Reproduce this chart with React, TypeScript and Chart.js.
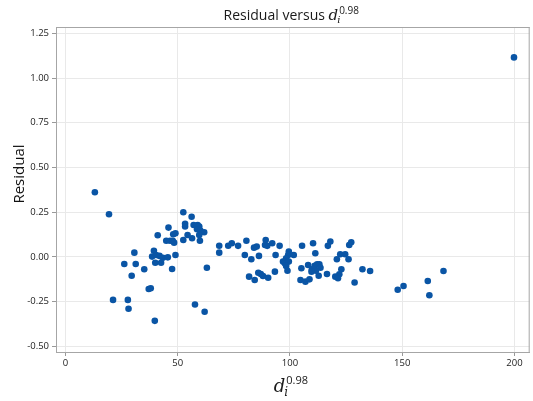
import React, { useEffect, useRef } from "react";
import { Chart, registerables } from "chart.js";

Chart.register(...registerables);

const xValues: number[] = [
  13.1, 19.4, 21.2, 27.8, 28.1, 26.2, 30.7, 31.3, 29.5, 35.1, 37.1, 38.0, 39.8,
  38.6, 39.4, 40.4, 41.9, 43.4, 45.6, 40.0, 42.6, 41.1, 45.9, 44.9, 46.6, 47.8, 48.4, 48.0, 49.0, 49.0, 47.5,
  52.5, 53.3, 53.3, 52.5, 54.4, 56.2, 56.4, 57.1, 58.9, 59.6, 58.6, 60.1, 61.8, 59.6, 59.9, 63.0, 57.7, 62.0,
  68.5, 68.5, 72.5, 74.1, 76.9, 80.6, 79.9, 82.8, 84.0, 85.2, 86.2, 89.2, 88.9, 89.9, 92.1, 95.4, 93.6,
  99.5, 99.2, 101.7, 98.3, 96.9, 97.7, 99.5, 98.3, 98.9, 93.3, 81.8, 84.3, 85.9, 87.0, 88.0, 90.3,
  105.4, 110.3, 111.3, 116.9, 118.0, 126.4, 127.3, 120.9, 122.4, 124.6, 126.1, 105.1, 108.1, 109.8, 111.0,
  112.1, 113.1, 113.6, 111.6, 109.6, 116.5, 112.8, 104.7, 106.9, 108.7, 122.9, 122.0, 120.2, 121.4, 128.8,
  132.3, 135.7, 148.0, 150.6, 161.4, 162.1, 168.4, 199.8,
];

const residuals: number[] = [
  0.362, 0.239, -0.24, -0.24, -0.289, -0.039, 0.024, -0.039, -0.105, -0.069, -0.179, -0.175, -0.357,
  0.002, 0.035, 0.011, 0.006, -0.004, -0.002, -0.032, -0.032, 0.121, 0.164, 0.091, 0.091, 0.091, 0.08, 0.127, 0.132, 0.011, -0.067,
  0.25, 0.185, 0.17, 0.095, 0.123, 0.225, 0.105, 0.179, 0.179, 0.17, 0.155, 0.147, 0.138, 0.123, 0.091, -0.06, -0.266, -0.306,
  0.063, 0.024, 0.063, 0.077, 0.062, 0.091, 0.011, -0.013, 0.052, 0.058, 0.006, 0.095, 0.067, 0.062, 0.077, 0.062, 0.011,
  0.03, 0.011, 0.011, -0.007, -0.026, -0.035, -0.026, -0.05, -0.077, -0.082, -0.11, -0.129, -0.088, -0.095, -0.106, -0.116,
  0.063, 0.077, 0.021, 0.062, 0.086, 0.067, 0.082, -0.013, 0.015, 0.015, -0.013, -0.063, -0.045, -0.069, -0.05,
  -0.041, -0.041, -0.06, -0.077, -0.082, -0.095, -0.105, -0.129, -0.138, -0.125, -0.069, -0.097, -0.11, -0.119, -0.143,
  -0.069, -0.078, -0.183, -0.162, -0.134, -0.214, -0.078, 1.115,
];

const xTicks: number[] = [0, 50, 100, 150, 200];
const yTicks: number[] = [-0.5, -0.25, 0, 0.25, 0.5, 0.75, 1.0, 1.25];

const titleText = "Residual versus ";
const yAxisTitle = "Residual";
const exponentText = "0.98";

const SANS = '"Open Sans", "Noto Sans", sans-serif';
const SERIF = '"DejaVu Serif", "Liberation Serif", serif';

function drawDExpr(
  ctx: CanvasRenderingContext2D,
  prefix: string,
  cx: number,
  baseline: number,
  prefixSize: number,
  dSize: number,
  subSize: number,
  supSize: number
) {
  ctx.save();
  ctx.fillStyle = "#1a1a1a";
  ctx.textBaseline = "alphabetic";
  ctx.textAlign = "left";
  const fPrefix = `${prefixSize}px ${SANS}`;
  const fD = `italic ${dSize}px ${SERIF}`;
  const fSub = `italic ${subSize}px ${SERIF}`;
  const fSup = `${supSize}px ${SANS}`;
  ctx.font = fPrefix;
  const wP = prefix ? ctx.measureText(prefix).width : 0;
  ctx.font = fD;
  const wD = ctx.measureText("d").width;
  ctx.font = fSub;
  const wI = ctx.measureText("i").width;
  ctx.font = fSup;
  const wS = ctx.measureText(exponentText).width;
  const total = wP + wD + Math.max(wI, 0) + wS + 1;
  let x = cx - total / 2;
  if (prefix) {
    ctx.font = fPrefix;
    ctx.fillText(prefix, x, baseline);
    x += wP;
  }
  ctx.font = fD;
  ctx.fillText("d", x, baseline);
  const xd = x + wD;
  ctx.font = fSub;
  ctx.fillText("i", xd - 1, baseline + dSize * 0.2);
  ctx.font = fSup;
  ctx.fillText(exponentText, xd + 1, baseline - dSize * 0.42);
  ctx.restore();
}

const decorPlugin = {
  id: "decor",
  afterDraw(chart: any) {
    const { ctx, chartArea } = chart;
    const { left, right, top, bottom } = chartArea;
    ctx.save();
    ctx.strokeStyle = "#a6a6a6";
    ctx.lineWidth = 1;
    ctx.beginPath();
    ctx.moveTo(left, top + 0.5);
    ctx.lineTo(right, top + 0.5);
    ctx.moveTo(right - 0.5, top);
    ctx.lineTo(right - 0.5, bottom);
    ctx.stroke();
    ctx.restore();
    const cx = (left + right) / 2;
    drawDExpr(ctx, titleText, cx, 20, 14, 15, 10, 10);
    drawDExpr(ctx, "", cx, 392, 0, 18, 12, 11);
    ctx.save();
    ctx.translate(20, 174);
    ctx.rotate(-Math.PI / 2);
    ctx.font = `15px ${SANS}`;
    ctx.fillStyle = "#111";
    ctx.textAlign = "center";
    ctx.textBaseline = "middle";
    ctx.fillText(yAxisTitle, 0, 0);
    ctx.restore();
  },
};

export default function App() {
  const ref = useRef<HTMLCanvasElement | null>(null);
  useEffect(() => {
    if (!ref.current) return;
    const points = xValues.map((x, i) => ({ x, y: residuals[i] }));
    const tickFont = { family: SANS, size: 9.5 };
    const chart = new Chart(ref.current, {
      type: "scatter",
      data: {
        datasets: [
          {
            data: points,
            backgroundColor: "#0a55a5",
            borderColor: "#0a55a5",
            borderWidth: 0,
            pointRadius: 3.3,
            pointHoverRadius: 3.3,
          },
        ],
      },
      options: {
        animation: false,
        responsive: false,
        maintainAspectRatio: false,
        events: [],
        layout: { padding: { top: 27, right: 1, left: 0, bottom: 0 } },
        plugins: { legend: { display: false }, tooltip: { enabled: false }, title: { display: false } },
        scales: {
          x: {
            type: "linear",
            min: -4.21,
            max: 206.8,
            afterBuildTicks: (s: any) => {
              s.ticks = xTicks.map((v) => ({ value: v }));
            },
            afterFit: (s: any) => {
              s.height = 49;
            },
            ticks: {
              font: tickFont,
              color: "#222",
              padding: 2,
              maxRotation: 0,
              callback: (v: any) => String(v),
            },
            grid: { color: "#e9e9e9", tickColor: "#999", tickLength: 4 },
            border: { color: "#a6a6a6", width: 1 },
          },
          y: {
            type: "linear",
            min: -0.531,
            max: 1.285,
            afterBuildTicks: (s: any) => {
              s.ticks = yTicks.map((v) => ({ value: v }));
            },
            afterFit: (s: any) => {
              s.width = 56;
            },
            ticks: {
              font: tickFont,
              color: "#222",
              padding: 3,
              callback: (v: any) => Number(v).toFixed(2),
            },
            grid: { color: "#e9e9e9", tickColor: "#999", tickLength: 4 },
            border: { color: "#a6a6a6", width: 1 },
          },
        },
      },
      plugins: [decorPlugin],
    });
    return () => chart.destroy();
  }, []);
  return (
    <div style={{ position: "fixed", left: 0, top: 0, width: 533, height: 401, background: "#fff" }}>
      <canvas ref={ref} width={533} height={401} style={{ width: 533, height: 401, display: "block" }} />
    </div>
  );
}
